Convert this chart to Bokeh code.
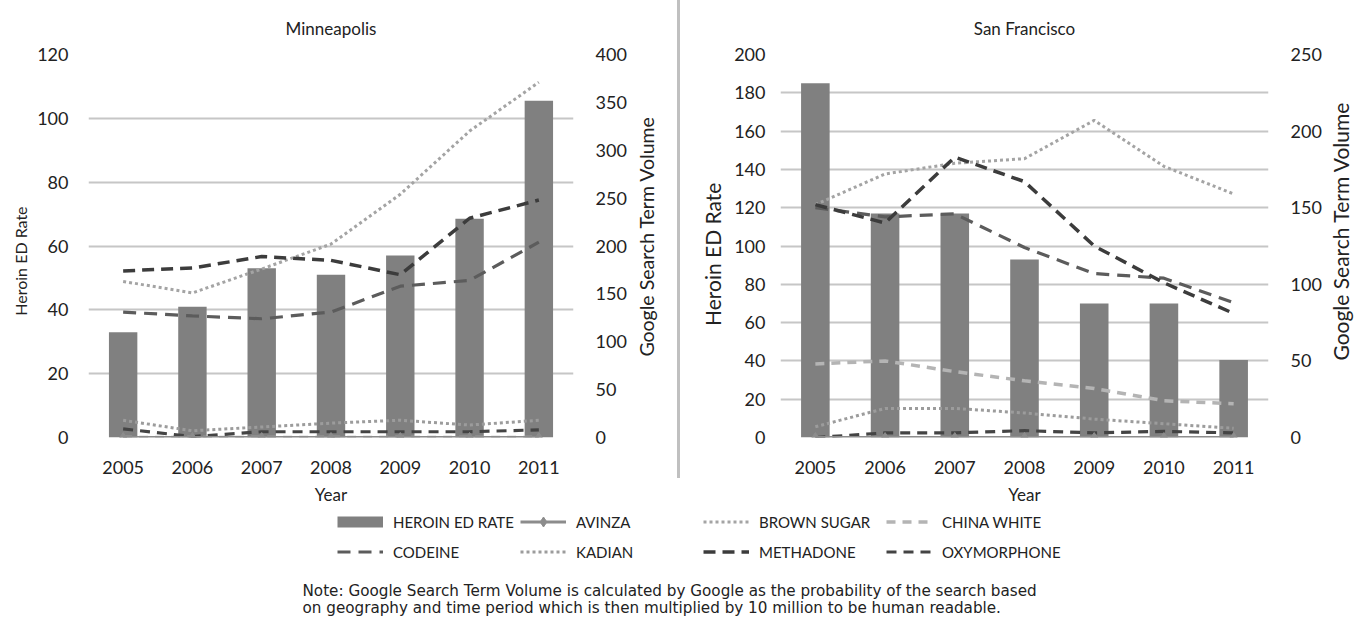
import math
from bokeh.plotting import figure
from bokeh.models import (Range1d, LinearAxis, FixedTicker, FactorRange, Legend,
                          LegendItem, Label, Div)
from bokeh.layouts import row, column
from bokeh.embed import file_html
from bokeh.resources import INLINE

# ---------------- data ----------------
years = ["2005", "2006", "2007", "2008", "2009", "2010", "2011"]

# Minneapolis (bars: left axis, lines: right axis)
mpls_heroin = [33, 41, 53, 51, 57, 68.5, 105.5]
mpls_avinza = [0, 0, 0, 0, 0, 0, 0]
mpls_brown_sugar = [163, 151, 176, 202, 254, 320, 371]
mpls_china_white = [0, 0, 0, 0, 0, 0, 0]
mpls_codeine = [131, 127, 124, 131, 158, 164, 204]
mpls_kadian = [18, 7, 11, 15, 18, 13, 18]
mpls_methadone = [174, 177, 189, 185, 170, 229, 248]
mpls_oxymorphone = [9, 1, 6, 6, 6, 6, 8]

# San Francisco
sf_heroin = [185, 117, 117, 93, 70, 70, 40.5]
sf_avinza = [0, 0, 0, 0, 0, 0, 0]
sf_brown_sugar = [152, 172, 179, 182, 207, 177, 159]
sf_china_white = [48, 50, 43, 37, 32, 24, 22]
sf_codeine = [150, 144, 146, 124, 107, 104, 88]
sf_kadian = [7, 19, 19, 16, 12, 9, 6]
sf_methadone = [152, 140, 183, 167, 125, 101, 81]
sf_oxymorphone = [0, 3, 3, 4.5, 3, 4, 3]

mpls_left_ticks = [0, 20, 40, 60, 80, 100, 120]
mpls_right_ticks = [0, 50, 100, 150, 200, 250, 300, 350, 400]
sf_left_ticks = [0, 20, 40, 60, 80, 100, 120, 140, 160, 180, 200]
sf_right_ticks = [0, 50, 100, 150, 200, 250]

left_title = "Heroin ED Rate"
right_title = "Google Search Term Volume"
x_title = "Year"

# legend order (row by row)
legend_rows = [["HEROIN ED RATE", "AVINZA", "BROWN SUGAR", "CHINA WHITE"],
               ["CODEINE", "KADIAN", "METHADONE", "OXYMORPHONE"]]

# ---------------- styles ----------------
FONT = "Lato"
TXT = "#222222"
GRID = "#c6c6c6"
BAR = "#808080"
PH = 508  # panel height
STY = {
    "AVINZA": dict(line_color="#8c8c8c", line_width=3),
    "BROWN SUGAR": dict(line_color="#a4a4a4", line_width=3, line_dash="3 3"),
    "CHINA WHITE": dict(line_color="#b4b4b4", line_width=3.5, line_dash="9 7"),
    "CODEINE": dict(line_color="#5c5c5c", line_width=3.2, line_dash="13 8"),
    "KADIAN": dict(line_color="#9c9c9c", line_width=3, line_dash="3 3"),
    "METHADONE": dict(line_color="#3c3c3c", line_width=3.5, line_dash="12 7"),
    "OXYMORPHONE": dict(line_color="#444444", line_width=3.2, line_dash="10 7"),
}
DIAMOND = dict(marker="diamond", size=10, fill_color="#8c8c8c", line_color="#8c8c8c")


def style_axis(ax, tick_size, standoff):
    ax.axis_line_color = None
    ax.major_tick_line_color = None
    ax.minor_tick_line_color = None
    ax.major_tick_out = 0
    ax.major_tick_in = 0
    ax.minor_tick_out = 0
    ax.major_label_standoff = standoff
    ax.major_label_text_font = FONT
    ax.major_label_text_font_size = tick_size
    ax.major_label_text_color = TXT
    ax.axis_label_text_font = FONT
    ax.axis_label_text_font_style = "normal"
    ax.axis_label_text_color = TXT


def title_strip(text, width, cx, cy_from_top, size):
    """Narrow blank figure holding one vertical axis title (reads bottom-to-top)."""
    f = figure(width=width, height=PH, output_backend="svg", toolbar_location=None,
               x_range=Range1d(0, width), y_range=Range1d(0, PH),
               x_axis_type=None, y_axis_type=None, min_border=0, title=None)
    f.outline_line_color = None
    f.xgrid.visible = False
    f.ygrid.visible = False
    f.add_layout(Label(x=cx, y=PH - cy_from_top, text=text, angle=math.pi / 2,
                       text_align="center", text_baseline="middle",
                       text_font=FONT, text_font_size=size, text_color=TXT))
    return f


def panel(title, heroin, lines, left_ticks, right_ticks, width, mb_left, mb_right,
          mb_bottom, left_standoff, right_standoff):
    p = figure(x_range=FactorRange(factors=years),
               y_range=Range1d(left_ticks[0], left_ticks[-1]),
               width=width, height=PH, output_backend="svg", toolbar_location=None,
               min_border_left=mb_left, min_border_right=mb_right,
               min_border_top=53, min_border_bottom=mb_bottom)
    p.outline_line_color = None
    p.background_fill_color = "white"
    p.border_fill_color = "white"

    p.title.text = title
    p.title.align = "center"
    p.title.text_font = FONT
    p.title.text_font_size = "17px"
    p.title.text_font_style = "normal"
    p.title.text_color = TXT
    p.title.standoff = 31

    p.extra_y_ranges = {"g": Range1d(right_ticks[0], right_ticks[-1])}

    p.vbar(x=years, top=heroin, width=0.41, fill_color=BAR, line_color=None)
    for name in ["CHINA WHITE", "KADIAN", "BROWN SUGAR", "CODEINE", "METHADONE",
                 "OXYMORPHONE", "AVINZA"]:
        p.line(x=years, y=lines[name], y_range_name="g", **STY[name])
    p.scatter(x=years, y=lines["AVINZA"], y_range_name="g", **DIAMOND)

    xa = p.xaxis[0]
    style_axis(xa, "18px", 23)
    xa.axis_label = x_title
    xa.axis_label_standoff = 7
    xa.axis_label_text_font_size = "17px"

    ya = p.yaxis[0]
    ya.ticker = FixedTicker(ticks=left_ticks)
    style_axis(ya, "18px", left_standoff)

    ra = LinearAxis(y_range_name="g", ticker=FixedTicker(ticks=right_ticks))
    style_axis(ra, "18px", right_standoff)
    p.add_layout(ra, "right")

    p.xgrid.grid_line_color = None
    p.ygrid.grid_line_color = GRID
    p.ygrid.grid_line_width = 2.2
    return p


mpls_lines = {"AVINZA": mpls_avinza, "BROWN SUGAR": mpls_brown_sugar,
              "CHINA WHITE": mpls_china_white, "CODEINE": mpls_codeine,
              "KADIAN": mpls_kadian, "METHADONE": mpls_methadone,
              "OXYMORPHONE": mpls_oxymorphone}
sf_lines = {"AVINZA": sf_avinza, "BROWN SUGAR": sf_brown_sugar,
            "CHINA WHITE": sf_china_white, "CODEINE": sf_codeine,
            "KADIAN": sf_kadian, "METHADONE": sf_methadone,
            "OXYMORPHONE": sf_oxymorphone}

# Minneapolis: strip 0..30 | panel 30..634 | strip 634..677
l1 = title_strip(left_title, 30, 20, 274, "16px")
p1 = panel("Minneapolis", mpls_heroin, mpls_lines, mpls_left_ticks, mpls_right_ticks,
           604, 58, 61, 69, 20, 22)
r1 = title_strip(right_title, 43, 12, 241, "19.5px")

sep = Div(width=3, height=478, margin=0, styles={"background-color": "#c0c0c0"})

# San Francisco: strip 680..725 | panel 725..1328 | strip 1328..1365
l2 = title_strip(left_title, 45, 32, 265, "21px")
p2 = panel("San Francisco", sf_heroin, sf_lines, sf_left_ticks, sf_right_ticks,
           603, 55, 60, 71, 15, 22)
r2 = title_strip(right_title, 37, 12, 234, "21px")

# ---------------- legend + note ----------------
H = 117
lf = figure(width=1365, height=H, output_backend="svg", toolbar_location=None,
            x_range=Range1d(0, 1365), y_range=Range1d(0, H),
            x_axis_type=None, y_axis_type=None, min_border=0)
lf.outline_line_color = None
lf.xgrid.visible = False
lf.ygrid.visible = False

NAN = float("nan")
rends = {}
rends["HEROIN ED RATE"] = [lf.line(x=[0], y=[NAN], line_color=BAR, line_width=11)]
rends["AVINZA"] = [lf.line(x=[0], y=[NAN], **STY["AVINZA"]),
                   lf.scatter(x=[0], y=[NAN], **DIAMOND)]
for name in ["BROWN SUGAR", "CHINA WHITE", "CODEINE", "KADIAN", "METHADONE", "OXYMORPHONE"]:
    rends[name] = [lf.line(x=[0], y=[NAN], **STY[name])]

# legend fills column by column -> interleave the two rows
order = [legend_rows[r][c] for c in range(4) for r in range(2)]
items = [LegendItem(label=n, renderers=rends[n]) for n in order]

leg = Legend(items=items, ncols=4, location=(337, 61), padding=0, margin=0,
             spacing=5, glyph_width=46, glyph_height=25, label_standoff=10,
             label_width=122, label_height=25, border_line_color=None,
             background_fill_alpha=0, label_text_font=FONT,
             label_text_font_size="15px", label_text_color=TXT)
lf.add_layout(leg, "center")

note1 = ("Note: Google Search Term Volume is calculated by Google as the probability "
         "of the search based")
note2 = ("on geography and time period which is then multiplied by 10 million to be "
         "human readable.")
for txt, yy in [(note1, 35), (note2, 18)]:
    lf.add_layout(Label(x=302, y=yy, text=txt, text_font="DejaVu Sans",
                        text_font_size="15.2px", text_color=TXT,
                        text_baseline="middle", text_align="left"))

layout = column(row(l1, p1, r1, sep, l2, p2, r2), lf)
open("out.html", "w").write(file_html(layout, INLINE))
